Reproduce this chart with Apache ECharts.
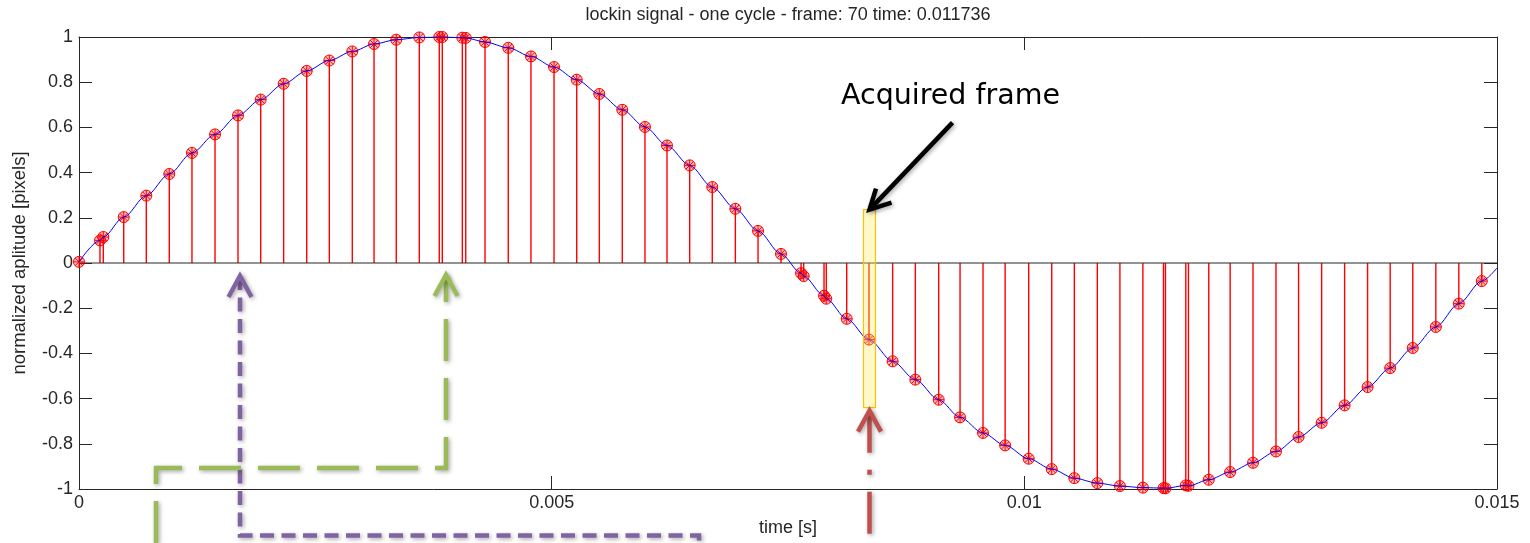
<!DOCTYPE html>
<html>
<head>
<meta charset="utf-8">
<script src="https://cdn.jsdelivr.net/npm/echarts@6/dist/echarts.min.js"></script>
<style>
  html, body { margin: 0; padding: 0; background: #ffffff; }
  #main { width: 1530px; height: 543px; }
</style>
</head>
<body>
<div id="main"></div>
<script>
// Lock-in signal folded onto one cycle: acquisition time of each frame [s]
const sampleTime = [
  0, 0.000222, 0.000257, 0.000473, 0.000712, 0.000955, 0.001195, 0.001439, 0.001682, 0.001922,
  0.002165, 0.002409, 0.002648, 0.002891, 0.003121, 0.003356, 0.0036, 0.003811, 0.003843, 0.004055,
  0.004091, 0.004295, 0.004541, 0.004781, 0.005025, 0.005265, 0.005504, 0.005747, 0.005987, 0.00622,
  0.00646, 0.006699, 0.006943, 0.007183, 0.007426, 0.007638, 0.007666, 0.007881, 0.007905, 0.008121,
  0.008357, 0.008607, 0.008847, 0.009094, 0.00932, 0.009563, 0.009797, 0.010046, 0.01029, 0.010529,
  0.010772, 0.011011, 0.011254, 0.011472, 0.011493, 0.011708, 0.011736, 0.011951, 0.012177, 0.012419,
  0.012662, 0.012901, 0.013145, 0.013388, 0.013631, 0.01387, 0.014109, 0.014353, 0.014596, 0.014839
];

// Normalized amplitude of each frame [pixels]
const sampleValue = [
  0.005, 0.100, 0.115, 0.203, 0.298, 0.394, 0.487, 0.569, 0.653, 0.723,
  0.793, 0.850, 0.896, 0.936, 0.969, 0.988, 0.998, 1.0, 1.0, 0.997,
  0.996, 0.978, 0.952, 0.914, 0.867, 0.811, 0.748, 0.678, 0.602, 0.520,
  0.432, 0.336, 0.240, 0.142, 0.040, -0.045, -0.058, -0.145, -0.158, -0.247,
  -0.339, -0.435, -0.516, -0.605, -0.683, -0.752, -0.807, -0.866, -0.912, -0.952,
  -0.974, -0.987, -0.994, -0.996, -0.997, -0.984, -0.986, -0.959, -0.925, -0.884,
  -0.834, -0.770, -0.707, -0.630, -0.549, -0.465, -0.376, -0.283, -0.180, -0.080
];

// Where the reference trace leaves the right edge of the plot
const traceEnd = [0.015, -0.022];

const xTickLabels = ['0', '0.005', '0.01', '0.015'];
const yTickLabels = ['-1', '-0.8', '-0.6', '-0.4', '-0.2', '0', '0.2', '0.4', '0.6', '0.8', '1'];

const titleText = 'lockin signal - one cycle - frame: 70 time: 0.011736';
const xName = 'time [s]';
const yName = 'normalized aplitude [pixels]';
const calloutText = 'Acquired frame';

// Frame highlighted by the callout and the vertical extent of its box
const acquiredIndex = 40;
const acquiredBoxTop = 0.236;
const acquiredBoxBottom = -0.64;

const stemData = sampleTime.map((t, i) => [t, sampleValue[i]]);
const traceData = stemData.concat([traceEnd]);

const FONT = "'Liberation Sans', Arial, Helvetica, sans-serif";
const AXIS_COLOR = '#262626';
const TEXT_COLOR = '#262626';

// circle with an asterisk, stroked
const markerPath = 'path://M5,0A5,5,0,1,1,-5,0A5,5,0,1,1,5,0Z' +
  'M-5,0L5,0M0,-5L0,5M-3.54,-3.54L3.54,3.54M-3.54,3.54L3.54,-3.54';

function boxAxis(extra) {
  return Object.assign({
    type: 'value',
    axisLine: { show: true, onZero: false, lineStyle: { color: AXIS_COLOR, width: 1 } },
    axisTick: { show: true, inside: true, length: 13, lineStyle: { color: AXIS_COLOR, width: 1 } },
    splitLine: { show: false },
    axisPointer: { show: false }
  }, extra);
}

const chart = echarts.init(document.getElementById('main'), null, { renderer: 'canvas' });

const option = {
  backgroundColor: '#ffffff',
  animation: false,
  tooltip: { show: false },
  title: {
    text: titleText,
    left: 788,
    top: 6,
    padding: 0,
    textAlign: 'center',
    textStyle: { fontFamily: FONT, fontSize: 18, fontWeight: 'normal', color: TEXT_COLOR }
  },
  grid: { left: 79, right: 33, top: 37, bottom: 54, containLabel: false },
  xAxis: [
    boxAxis({
      position: 'bottom', min: 0, max: 0.015, interval: 0.005,
      name: xName, nameLocation: 'middle', nameGap: 30,
      nameTextStyle: { fontFamily: FONT, fontSize: 18, color: TEXT_COLOR },
      axisLabel: {
        show: true, margin: 5, fontFamily: FONT, fontSize: 18, color: TEXT_COLOR,
        formatter: (v, i) => xTickLabels[i]
      }
    }),
    boxAxis({
      position: 'top', min: 0, max: 0.015, interval: 0.005,
      axisLabel: { show: false }
    })
  ],
  yAxis: [
    boxAxis({
      position: 'left', min: -1, max: 1, interval: 0.2,
      name: yName, nameLocation: 'middle', nameGap: 50,
      nameTextStyle: { fontFamily: FONT, fontSize: 18.5, color: TEXT_COLOR },
      axisLabel: {
        show: true, margin: 6, fontFamily: FONT, fontSize: 18, color: TEXT_COLOR,
        formatter: (v, i) => yTickLabels[i]
      }
    }),
    boxAxis({
      position: 'right', min: -1, max: 1, interval: 0.2,
      axisLabel: { show: false }
    })
  ],
  series: [
    {
      name: 'stems',
      type: 'custom',
      xAxisIndex: 0, yAxisIndex: 0,
      z: 2,
      silent: true,
      data: stemData,
      renderItem: function (params, api) {
        const t = api.value(0);
        const p0 = api.coord([t, 0]);
        const p1 = api.coord([t, api.value(1)]);
        return {
          type: 'line',
          shape: { x1: p0[0], y1: p0[1], x2: p1[0], y2: p1[1] },
          style: { stroke: '#ff0000', lineWidth: 1.4 }
        };
      }
    },
    {
      name: 'baseline',
      type: 'line',
      xAxisIndex: 0, yAxisIndex: 0,
      z: 3,
      silent: true,
      showSymbol: false,
      data: [[0, 0], [0.015, 0]],
      lineStyle: { color: AXIS_COLOR, width: 1 }
    },
    {
      name: 'frames',
      type: 'scatter',
      xAxisIndex: 0, yAxisIndex: 0,
      z: 4,
      silent: true,
      symbol: markerPath,
      symbolSize: 11,
      data: stemData,
      itemStyle: { color: 'rgba(255,0,0,0.25)', borderColor: '#ff0000', borderWidth: 1, opacity: 1 }
    },
    {
      name: 'trace',
      type: 'line',
      xAxisIndex: 0, yAxisIndex: 0,
      z: 5,
      silent: true,
      showSymbol: false,
      smooth: 0.3,
      smoothMonotone: 'x',
      data: traceData,
      lineStyle: { color: '#0000ff', width: 1 }
    }
  ]
};

chart.setOption(option);

// ---- callout graphics ----
const toPx = (t, v) => chart.convertToPixel({ xAxisIndex: 0, yAxisIndex: 0 }, [t, v]);
const acqT = sampleTime[acquiredIndex];
const boxTopPx = toPx(acqT, acquiredBoxTop);
const boxBotPx = toPx(acqT, acquiredBoxBottom);
const cx = Math.round(boxTopPx[0]) + 0.5;

const shadow = { shadowBlur: 4, shadowColor: 'rgba(0,0,0,0.35)', shadowOffsetX: 1.5, shadowOffsetY: 1.5 };

function arrowLine(points, color, dash, dashOffset) {
  return {
    type: 'polyline',
    z: 100,
    silent: true,
    shape: { points: points },
    style: Object.assign({
      stroke: color, fill: null, lineWidth: 4.5, lineCap: 'butt', lineJoin: 'miter',
      lineDash: dash || null, lineDashOffset: dashOffset || 0
    }, shadow)
  };
}

function upHead(x, y, color) {
  return arrowLine([[x - 11.5, y + 21], [x, y], [x + 11.5, y + 21]], color, null, 0);
}

const purple = '#8064A2';
const green = '#9BBB59';
const redArrow = '#C0504D';

const graphics = [
  // acquired frame box
  {
    type: 'rect', z: 90, silent: true,
    shape: { x: cx - 6, y: boxTopPx[1], width: 12, height: boxBotPx[1] - boxTopPx[1] },
    style: { fill: 'rgba(255,236,90,0.32)', stroke: '#FFC000', lineWidth: 1.2 }
  },
  // callout text
  {
    type: 'text', z: 100, silent: true,
    style: {
      x: 841, y: 97, text: calloutText, fill: '#000000',
      fontFamily: "'DejaVu Sans', Verdana, sans-serif", fontSize: 28.5,
      verticalAlign: 'middle', align: 'left'
    }
  },
  // black callout arrow
  arrowLine([[cx + 83, boxTopPx[1] - 87], [cx + 1, boxTopPx[1] - 1]], '#000000', null, 0),
  arrowLine([[cx + 6.5, boxTopPx[1] - 21], [cx, boxTopPx[1]], [cx + 22, boxTopPx[1] - 7]], '#000000', null, 0),
  // red dash-dot arrow under the acquired frame
  arrowLine([[cx, boxBotPx[1] + 3], [cx, 560]], redArrow, [42, 17, 5, 17], 0),
  upHead(cx, boxBotPx[1] + 3, redArrow),
  // purple dashed path
  arrowLine([[240, 276], [240, 535.5], [699, 535.5], [699, 560]], purple, [14, 7.5], 0),
  upHead(240, 276, purple),
  // green long-dash path
  arrowLine([[446, 275], [446, 468], [156, 468], [156, 560]], green, [42, 17], 15),
  upHead(446, 275, green)
];

chart.setOption({ graphic: graphics });
</script>
</body>
</html>
